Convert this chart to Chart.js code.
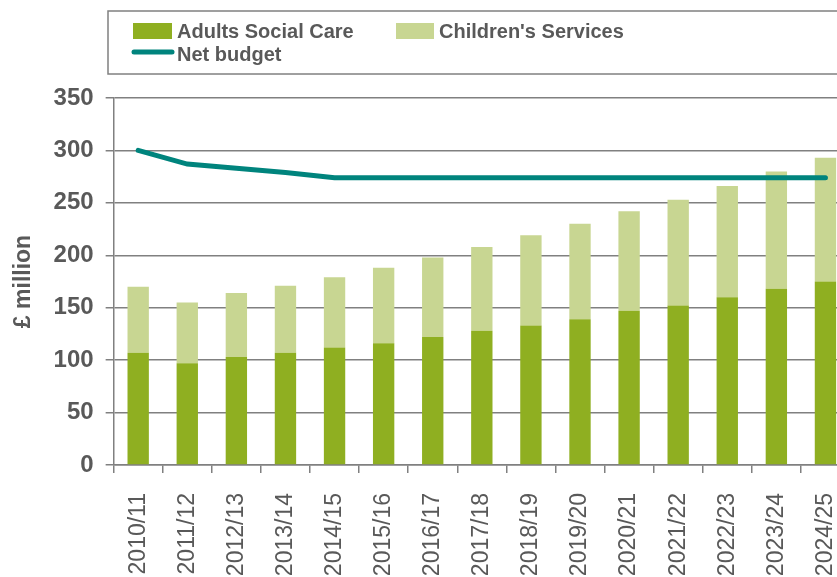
<!DOCTYPE html>
<html>
<head>
<meta charset="utf-8">
<script src="https://cdn.jsdelivr.net/npm/chart.js@4.4.1/dist/chart.umd.min.js"></script>
<style>
  html, body { margin: 0; padding: 0; background: #fff; overflow: hidden; }
  /* the original plot runs past the right edge of the picture, so the canvas is a bit wider than the window */
  #wrap { width: 850px; height: 577px; }
</style>
</head>
<body>
<div id="wrap"><canvas id="budgetChart"></canvas></div>
<script>
// Data
const years = ['2010/11', '2011/12', '2012/13', '2013/14', '2014/15', '2015/16', '2016/17', '2017/18',
    '2018/19', '2019/20', '2020/21', '2021/22', '2022/23', '2023/24', '2024/25'];
const adultsSocialCare = [107, 97, 103, 107, 112, 116, 122, 128, 133, 139, 147, 152, 160, 168, 175];
const childrensServices = [63, 58, 61, 64, 67, 72, 76, 80, 86, 91, 95, 101, 106, 112, 118];
const netBudget = [300, 287, 283, 279, 274, 274, 274, 274, 274, 274, 274, 274, 274, 274, 274];
const yTicks = [0, 50, 100, 150, 200, 250, 300, 350];

const textGrey = '#595959';
const lineGrey = '#808080';

// Excel style legend box drawn above the plot
const boxLegend = {
    id: 'boxLegend',
    afterDraw(chart) {
        const ctx = chart.ctx;
        const ds = chart.data.datasets;
        ctx.save();
        ctx.strokeStyle = lineGrey;
        ctx.lineWidth = 1.5;
        ctx.strokeRect(108, 11, 760, 63);
        ctx.font = 'bold 20px "Liberation Sans", Arial, sans-serif';
        ctx.fillStyle = textGrey;
        ctx.textBaseline = 'alphabetic';
        // Adults Social Care
        ctx.fillStyle = ds[1].backgroundColor;
        ctx.fillRect(133, 23, 39, 16);
        ctx.fillStyle = textGrey;
        ctx.fillText(ds[1].label, 177, 38);
        // Children's Services
        ctx.fillStyle = ds[2].backgroundColor;
        ctx.fillRect(396, 23, 38, 16);
        ctx.fillStyle = textGrey;
        ctx.fillText(ds[2].label, 439, 38);
        // Net budget
        ctx.strokeStyle = ds[0].borderColor;
        ctx.lineWidth = 5;
        ctx.lineCap = 'round';
        ctx.beginPath();
        ctx.moveTo(134, 52);
        ctx.lineTo(172, 52);
        ctx.stroke();
        ctx.fillText(ds[0].label, 177, 61);
        ctx.restore();
    }
};

const ctx = document.getElementById('budgetChart').getContext('2d');
const budgetChart = new Chart(ctx, {
    data: {
        labels: years,
        datasets: [{
            type: 'line',
            label: 'Net budget',
            data: netBudget,
            stack: 'budget',
            borderColor: '#00847D',
            borderWidth: 5,
            borderCapStyle: 'round',
            pointRadius: 0,
            tension: 0,
            fill: false,
            order: 0
        }, {
            type: 'bar',
            label: 'Adults Social Care',
            data: adultsSocialCare,
            stack: 'spend',
            backgroundColor: '#8FAF21',
            categoryPercentage: 1,
            barPercentage: 0.435,
            order: 1
        }, {
            type: 'bar',
            label: "Children's Services",
            data: childrensServices,
            stack: 'spend',
            backgroundColor: '#C8D692',
            categoryPercentage: 1,
            barPercentage: 0.435,
            order: 1
        }]
    },
    plugins: [boxLegend],
    options: {
        responsive: true,
        maintainAspectRatio: false,
        animation: false,
        layout: {
            autoPadding: false,
            padding: { top: 98, left: 10, right: 0, bottom: 0 }
        },
        plugins: {
            legend: { display: false },
            tooltip: { enabled: false }
        },
        scales: {
            x: {
                stacked: true,
                offset: true,
                afterFit: function (axis) {
                    axis.height = 112;
                    axis.paddingLeft = 0;
                    axis.paddingRight = 0;
                },
                grid: {
                    drawOnChartArea: false,
                    drawTicks: true,
                    tickLength: 8,
                    color: lineGrey,
                    lineWidth: 1.5
                },
                border: { color: lineGrey, width: 1.5 },
                ticks: {
                    color: textGrey,
                    font: { family: '"Liberation Sans", Arial, sans-serif', size: 23 },
                    minRotation: 90,
                    maxRotation: 90,
                    padding: 20,
                    autoSkip: false
                }
            },
            y: {
                stacked: true,
                min: 0,
                max: 350,
                afterBuildTicks: function (axis) {
                    axis.ticks = yTicks.map(v => ({ value: v }));
                },
                grid: {
                    color: lineGrey,
                    lineWidth: 1.5,
                    tickLength: 8
                },
                border: { color: lineGrey, width: 1.5 },
                ticks: {
                    color: textGrey,
                    font: { family: '"Liberation Sans", Arial, sans-serif', size: 24, weight: 'bold' },
                    padding: 12
                },
                title: {
                    display: true,
                    text: '£ million',
                    color: textGrey,
                    font: { family: '"Liberation Sans", Arial, sans-serif', size: 23, weight: 'bold' },
                    padding: { top: 0, bottom: 4 }
                }
            }
        }
    }
});
</script>
</body>
</html>
